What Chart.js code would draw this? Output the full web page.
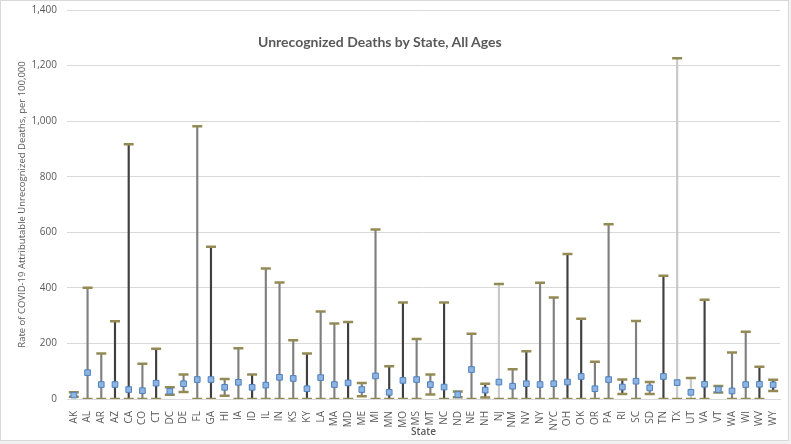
<!DOCTYPE html>
<html>
<head>
<meta charset="utf-8">
<script src="https://cdn.jsdelivr.net/npm/chart.js@4.4.1/dist/chart.umd.min.js"></script>
<style>
  html, body { margin: 0; padding: 0; background: #ffffff; }
  #wrap { position: relative; width: 791px; height: 444px; background: #f2f2f2; }
  #frame { position: absolute; left: 0; top: 0; width: 787px; height: 439px; background: #fff; border: 1px solid #d9d9d9; }
  #title { position: absolute; left: 258px; top: 33px; font-family: "Lato", "Open Sans", sans-serif; font-weight: bold; font-size: 14px; color: #595959; white-space: nowrap; }
  canvas { position: absolute; left: 0; top: 0; }
</style>
</head>
<body>
<div id="wrap">
  <div id="frame"></div>
  <canvas id="chart" width="791" height="444"></canvas>
  <div id="title">Unrecognized Deaths by State, All Ages</div>
</div>
<script>
// --- 데이터 ---
const states = ["AK","AL","AR","AZ","CA","CO","CT","DC","DE","FL","GA","HI","IA","ID","IL","IN","KS","KY","LA","MA","MD","ME","MI","MN","MO","MS","MT","NC","ND","NE","NH","NJ","NM","NV","NY","NYC","OH","OK","OR","PA","RI","SC","SD","TN","TX","UT","VA","VT","WA","WI","WV","WY"];
// 추정치 (점)
const rateEstimate = [14, 95, 52, 52, 34, 30, 57, 28, 55, 70, 70, 42, 60, 42, 50, 78, 74, 37, 77, 52, 58, 34, 83, 24, 67, 70, 52, 43, 16, 106, 32, 61, 46, 55, 52, 55, 61, 81, 37, 70, 43, 64, 40, 81, 59, 24, 53, 34, 29, 52, 53, 51];
// 하한 / 상한
const rateLower = [8, 0, 0, 0, 0, 0, 0, 15, 25, 0, 0, 12, 0, 0, 0, 0, 0, 0, 0, 0, 0, 10, 0, 0, 0, 0, 16, 0, 6, 0, 5, 0, 0, 0, 0, 0, 0, 0, 0, 0, 18, 0, 18, 0, 0, 0, 0, 23, 0, 0, 0, 29];
const rateUpper = [24, 400, 164, 280, 917, 127, 181, 42, 88, 982, 548, 72, 183, 88, 470, 419, 211, 164, 315, 272, 277, 58, 610, 118, 347, 216, 88, 347, 27, 235, 55, 414, 107, 172, 418, 365, 522, 289, 134, 629, 70, 281, 61, 444, 1226, 76, 357, 47, 167, 242, 116, 69];
const yTicks = [0, 200, 400, 600, 800, 1000, 1200, 1400];

// 선 색 (d=진함, m=중간, l=연함)
const lineShade = "mmmddmddmmdmmdmmmdmmdmmddmmddmdlmdmmddmmdmmdllddmmdd";
const shadeColor = { d: '#3f3f3f', m: '#808080', l: '#c8c8c8' };

const ctx = document.getElementById('chart').getContext('2d');
new Chart(ctx, {
    type: 'bar',
    data: {
        labels: states,
        datasets: [
            {
                // 점 (추정치)
                type: 'line',
                data: rateEstimate,
                showLine: false,
                pointStyle: 'rect',
                pointRadius: 4,
                backgroundColor: '#8eb4e3',
                borderColor: '#4f81bd',
                borderWidth: 1,
                order: 0
            },
            {
                // 상한 캡
                type: 'line',
                data: rateUpper,
                showLine: false,
                pointStyle: 'line',
                pointRadius: 5,
                borderColor: '#948a54',
                borderWidth: 2.5,
                order: 1
            },
            {
                // 하한 캡
                type: 'line',
                data: rateLower,
                showLine: false,
                pointStyle: 'line',
                pointRadius: 5,
                borderColor: '#948a54',
                borderWidth: 2.5,
                order: 1
            },
            {
                // 세로 선
                type: 'bar',
                data: rateLower.map((lo, i) => [lo, rateUpper[i]]),
                backgroundColor: states.map((s, i) => shadeColor[lineShade[i]]),
                barThickness: 1.5,
                borderSkipped: false,
                order: 2
            }
        ]
    },
    options: {
        responsive: false,
        animation: false,
        layout: { padding: { left: 17, right: 11, top: 10, bottom: 6 } },
        plugins: { legend: { display: false }, tooltip: { enabled: false } },
        scales: {
            x: {
                offset: true,
                afterFit: s => { s.height = 39; },
                grid: { display: false },
                border: { display: true, color: '#d9d9d9' },
                ticks: {
                    autoSkip: false,
                    maxRotation: 90,
                    minRotation: 90,
                    padding: 4,
                    color: '#595959',
                    font: { family: 'Open Sans', size: 10 }
                },
                title: {
                    display: true,
                    text: 'State',
                    color: '#595959',
                    padding: { top: 0, bottom: 0 },
                    font: { family: 'Open Sans', size: 10, weight: '600' }
                }
            },
            y: {
                min: 0,
                max: 1400,
                afterBuildTicks: s => { s.ticks = yTicks.map(v => ({ value: v })); },
                afterFit: s => { s.width = 50; s.paddingTop = 0; s.paddingBottom = 0; },
                grid: { color: '#d9d9d9', drawTicks: false },
                border: { display: false },
                ticks: {
                    padding: 10,
                    color: '#595959',
                    font: { family: 'Open Sans', size: 10 },
                    callback: v => v.toLocaleString('en-US')
                },
                title: {
                    display: true,
                    text: 'Rate of COVID-19 Attributable Unrecognized Deaths, per 100,000',
                    color: '#595959',
                    padding: { top: 0, bottom: 2 },
                    font: { family: 'Open Sans', size: 9.5 }
                }
            }
        }
    }
});
</script>
</body>
</html>
